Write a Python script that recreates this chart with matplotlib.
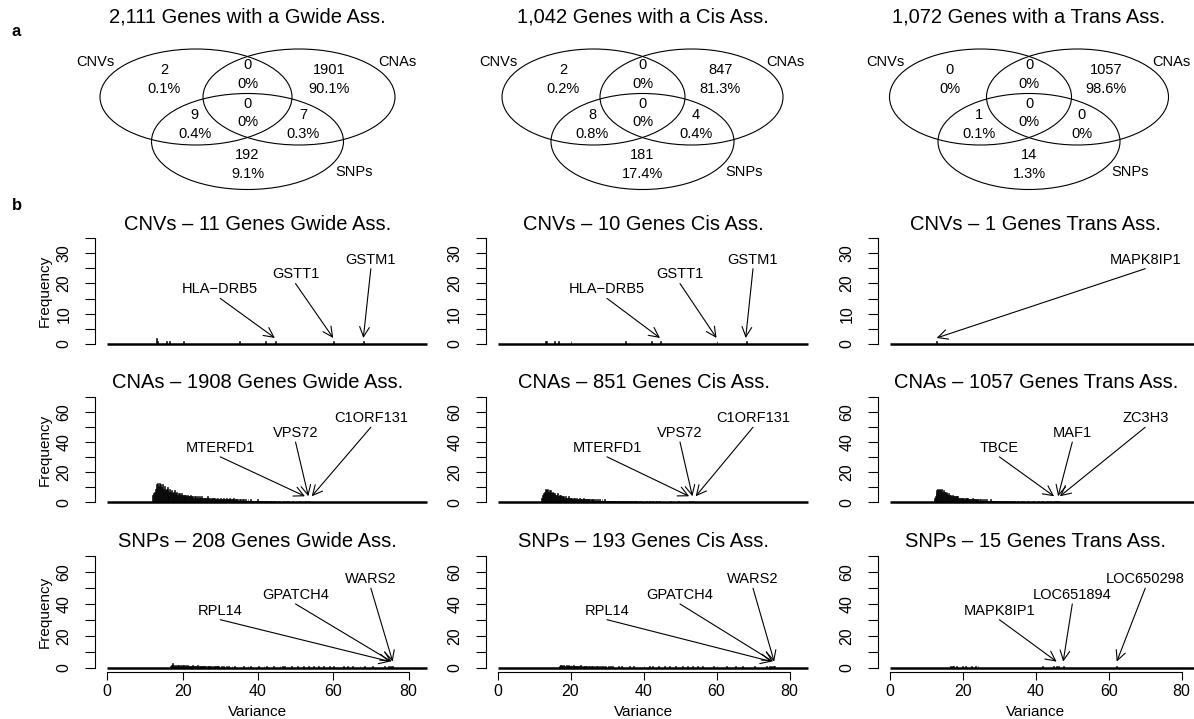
import numpy as np
import matplotlib.pyplot as plt
from matplotlib.patches import Ellipse

plt.rcParams['font.family'] = ['Liberation Sans', 'DejaVu Sans']

W, H = 1194, 719

# Venn region counts, in the order:
# CNV only, CNV&CNA, CNA only, CNV&SNP, all three, CNA&SNP, SNP only
assoc_types = ['Gwide', 'Cis', 'Trans']
set_names = ['CNVs', 'CNAs', 'SNPs']
venn_gwide = [2, 0, 1901, 9, 0, 7, 192]
venn_cis = [2, 0, 847, 8, 0, 4, 181]
venn_trans = [0, 0, 1057, 1, 0, 0, 14]

# variance histograms: dense counts on 0.25-wide bins from a start value,
# plus single genes in the sparse tails
bin_width = 0.25

cnv_gwide_singles = [13.1, 13.2, 13.3, 15.6, 16.7, 20.1, 35.2, 42.1, 44.5, 60.0, 68.0]
cnv_cis_singles = [13.1, 13.3, 15.6, 16.7, 20.1, 35.2, 42.1, 44.5, 60.0, 68.0]
cnv_trans_singles = [12.8]

cna_gwide_start = 12.0
cna_gwide_counts = [
    5, 6, 7, 9, 12, 13, 11, 13, 12, 10, 12, 9, 11, 8, 9, 10,
    8, 7, 9, 7, 8, 6, 7, 8, 6, 7, 5, 6, 6, 5, 6, 5,
    5, 4, 5, 5, 4, 5, 4, 4, 5, 4, 4, 3, 4, 4, 3, 4,
    3, 4, 3, 3, 4, 3, 3, 3, 3, 3, 4, 3, 3, 2, 3, 3,
    3, 3, 2, 3, 2, 3, 2, 2, 3, 2, 2, 3, 2, 2, 3, 2,
    2, 3, 2, 2, 2, 2, 3, 2, 2, 2, 2, 1, 2, 2, 1, 2,
    2, 1, 2, 1, 1, 2, 1, 1, 2, 1, 1, 1, 1, 1, 1, 2,
    1, 1, 1, 1, 1, 0, 1, 1, 1, 1, 0, 1, 0, 1, 1, 0,
    1, 0, 1, 0, 0, 1, 0, 1,
]
cna_gwide_singles = [46.8, 47.5, 48.2, 49.0, 50.1, 51.0, 52.5, 53.4, 54.3]

cna_cis_start = 12.0
cna_cis_counts = [
    3, 5, 6, 7, 9, 8, 9, 7, 8, 7, 8, 6, 7, 6, 6, 5,
    5, 6, 4, 5, 4, 5, 4, 4, 4, 3, 4, 3, 3, 4, 3, 3,
    3, 3, 2, 3, 3, 2, 3, 2, 2, 3, 2, 2, 2, 2, 3, 2,
    2, 2, 2, 2, 2, 1, 2, 2, 2, 2, 1, 2, 1, 2, 1, 2,
    1, 1, 2, 1, 1, 2, 1, 1, 1, 1, 1, 1, 1, 1, 1, 1,
    1, 1, 0, 1, 1, 1, 1, 0, 1, 0, 1, 1, 0, 1, 1, 0,
    1, 0, 1, 0, 0, 1, 0, 1, 1, 0, 0, 1, 0, 1, 0, 0,
    1, 0, 0, 1, 0, 0, 1, 0, 0, 1, 0, 0, 0, 0, 1, 0,
]
cna_cis_singles = [44.3, 47.3, 49.5, 52.5, 53.4, 54.3]

cna_trans_start = 12.0
cna_trans_counts = [
    3, 4, 6, 8, 9, 8, 9, 8, 9, 7, 8, 7, 7, 6, 7, 5,
    6, 5, 5, 4, 5, 4, 4, 4, 4, 3, 4, 3, 3, 3, 3, 3,
    3, 2, 3, 3, 2, 3, 2, 2, 2, 2, 3, 2, 2, 2, 2, 2,
    2, 1, 2, 2, 1, 2, 1, 2, 1, 2, 1, 1, 1, 1, 2, 1,
    1, 1, 1, 1, 1, 1, 1, 0, 1, 1, 0, 1, 1, 0, 1, 1,
    0, 1, 1, 0, 1, 0, 1, 0, 1, 0, 0, 1, 0, 1, 0, 0,
    1, 0, 1, 0, 0, 0, 1, 0, 1, 0, 0, 0, 0, 1, 0, 0,
]
cna_trans_singles = [40.6, 41.9, 43.2, 44.1, 45.0, 45.6, 46.1, 46.6]

snp_gwide_start = 16.5
snp_gwide_counts = [
    0, 1, 2, 3, 2, 1, 2, 1, 2, 2, 1, 2, 1, 2, 2, 1,
    1, 2, 1, 2, 1, 1, 1, 1, 2, 1, 1, 1, 1, 2, 1, 1,
    0, 1, 1, 1, 1, 1, 1, 0, 1, 1, 1, 1, 0, 1, 0, 1,
    1, 0, 1, 1, 1, 0, 0, 1, 0, 1, 0, 0, 1, 0, 1, 0,
    0, 0, 1, 0, 0, 1, 0, 0,
]
snp_gwide_singles = [36.1, 37.4, 38.0, 40.2, 41.5, 42.3, 44.0, 45.8, 46.6, 47.2,
                     48.9, 50.5, 52.0, 53.3, 54.8, 56.1, 57.4, 59.0, 60.2, 62.5,
                     63.8, 65.1, 67.0, 68.3, 70.4, 73.5, 74.6, 75.1, 75.5, 75.8]

snp_cis_start = 16.5
snp_cis_counts = [
    0, 1, 2, 2, 2, 1, 2, 1, 1, 2, 1, 2, 1, 1, 2, 1,
    1, 2, 1, 1, 1, 1, 1, 1, 2, 1, 1, 0, 1, 1, 1, 1,
    0, 1, 1, 0, 1, 1, 1, 0, 1, 0, 1, 1, 0, 1, 0, 1,
    1, 0, 1, 0, 1, 0, 0, 1, 0, 1, 0, 0, 1, 0, 0, 0,
    0, 0, 1, 0, 0, 1, 0, 0,
]
snp_cis_singles = [36.1, 37.4, 40.2, 41.5, 42.3, 44.0, 45.8, 47.2, 48.9, 50.5,
                   52.0, 53.3, 54.8, 56.1, 59.0, 60.2, 62.5, 65.1, 67.0, 70.4,
                   73.5, 74.6, 75.1, 75.5, 75.8]

snp_trans_singles = [16.6, 17.0, 17.4, 18.0, 19.9, 20.6, 22.4, 23.3, 24.2,
                     41.8, 44.9, 45.7, 46.2, 47.5, 62.2]

# labelled genes and their variance, per panel
genes_cnv = {'Gwide': [('HLA\u2212DRB5', 44.5), ('GSTT1', 60.0), ('GSTM1', 68.0)],
             'Cis': [('HLA\u2212DRB5', 44.5), ('GSTT1', 60.0), ('GSTM1', 68.0)],
             'Trans': [(None, None), (None, None), ('MAPK8IP1', 12.8)]}
genes_cna = {'Gwide': [('MTERFD1', 52.5), ('VPS72', 53.4), ('C1ORF131', 54.3)],
             'Cis': [('MTERFD1', 52.5), ('VPS72', 53.4), ('C1ORF131', 54.3)],
             'Trans': [('TBCE', 45.0), ('MAF1', 46.1), ('ZC3H3', 46.6)]}
genes_snp = {'Gwide': [('RPL14', 75.1), ('GPATCH4', 75.5), ('WARS2', 75.8)],
             'Cis': [('RPL14', 75.1), ('GPATCH4', 75.5), ('WARS2', 75.8)],
             'Trans': [('MAPK8IP1', 45.7), ('LOC651894', 47.5), ('LOC650298', 62.2)]}

edges = np.arange(0, 85 + bin_width / 2, bin_width)


def binned(singles, start=None, counts=None):
    h = np.zeros(len(edges) - 1)
    if counts is not None:
        i0 = int(round(start / bin_width))
        h[i0:i0 + len(counts)] += counts
    h += np.histogram(singles, bins=edges)[0]
    return h


hists = {
    ('CNVs', 'Gwide'): binned(cnv_gwide_singles),
    ('CNVs', 'Cis'): binned(cnv_cis_singles),
    ('CNVs', 'Trans'): binned(cnv_trans_singles),
    ('CNAs', 'Gwide'): binned(cna_gwide_singles, cna_gwide_start, cna_gwide_counts),
    ('CNAs', 'Cis'): binned(cna_cis_singles, cna_cis_start, cna_cis_counts),
    ('CNAs', 'Trans'): binned(cna_trans_singles, cna_trans_start, cna_trans_counts),
    ('SNPs', 'Gwide'): binned(snp_gwide_singles, snp_gwide_start, snp_gwide_counts),
    ('SNPs', 'Cis'): binned(snp_cis_singles, snp_cis_start, snp_cis_counts),
    ('SNPs', 'Trans'): binned(snp_trans_singles),
}
genes = {'CNVs': genes_cnv, 'CNAs': genes_cna, 'SNPs': genes_snp}

fig = plt.figure(figsize=(W / 100, H / 100), dpi=100)

# ---------------- a: Venn diagrams (pixel coordinates) ----------------
av = fig.add_axes([0, 0, 1, 1])
av.set_xlim(0, W)
av.set_ylim(H, 0)
av.axis('off')

venn_geom = [  # centre x of the lower ellipse, horizontal offset, half width
    (247.5, 51.5, 96.0),
    (642.5, 49.0, 91.5),
    (1029.0, 48.5, 91.0),
]
cy_top, cy_bot, hh = 97.0, 141.5, 48.0
# region text offsets (in half-widths) and the y of the two lines
region_dx = [-0.87, 0.0, 0.85, -0.55, 0.0, 0.58, 0.0]
region_y = [(70, 89), (65, 84), (70, 89), (115, 134), (104, 122), (115, 134), (155, 174)]

for venn, (cx, s, hw), kind in zip([venn_gwide, venn_cis, venn_trans], venn_geom, assoc_types):
    total = sum(venn)
    av.text(cx, 17, f'{total:,} Genes with a {kind} Ass.', ha='center', va='center', fontsize=14.5)
    for ex, ey in [(cx - s, cy_top), (cx + s, cy_top), (cx, cy_bot)]:
        av.add_patch(Ellipse((ex, ey), 2 * hw, 2 * hh, fill=False, lw=0.8, ec='black'))
    for n, dx, (y1, y2) in zip(venn, region_dx, region_y):
        pct = round(100 * n / total, 1)
        av.text(cx + dx * hw, y1, str(n), ha='center', va='center', fontsize=10.5)
        av.text(cx + dx * hw, y2, f'{pct:g}%', ha='center', va='center', fontsize=10.5)
    av.text(cx - 1.58 * hw, 62, set_names[0], ha='center', va='center', fontsize=10.5)
    av.text(cx + 1.56 * hw, 62, set_names[1], ha='center', va='center', fontsize=10.5)
    av.text(cx + 1.11 * hw, 172, set_names[2], ha='center', va='center', fontsize=10.5)

av.text(16, 31, 'a', ha='center', va='center', fontsize=12, fontweight='bold')
av.text(17, 206, 'b', ha='center', va='center', fontsize=12, fontweight='bold')

# ---------------- b: variance histograms ----------------
col_zero = [107.3, 497.5, 890.0]     # pixel of variance 0
col_scale = [3.765, 3.65, 3.646]     # pixels per variance unit
row_zero = [344.0, 502.3, 668.0]     # pixel of frequency 0
row_scale = [3.03, 1.51, 1.605]      # pixels per count
row_ymax = [35, 70, 70]
xlim = (-3.2, 83.2)

for r, name in enumerate(set_names):
    ymax = row_ymax[r]
    ylim = (-0.04 * ymax, 1.04 * ymax)
    for c, kind in enumerate(assoc_types):
        sx, sy = col_scale[c], row_scale[r]
        left = col_zero[c] + xlim[0] * sx
        width = (xlim[1] - xlim[0]) * sx
        top = row_zero[r] - ylim[1] * sy
        height = (ylim[1] - ylim[0]) * sy
        ax = fig.add_axes([left / W, 1 - (top + height) / H, width / W, height / H])
        ax.patch.set_alpha(0)
        ax.set_xlim(*xlim)
        ax.set_ylim(*ylim)

        h = hists[(name, kind)]
        nz = h > 0
        ax.bar(edges[:-1][nz], h[nz], width=bin_width, align='edge',
               color='black', edgecolor='black', lw=0.4)
        ax.plot([0, 85], [0, 0], color='black', lw=1.8, solid_capstyle='butt', clip_on=False)

        venn = [venn_gwide, venn_cis, venn_trans][c]
        members = {'CNVs': [0, 1, 3, 4], 'CNAs': [1, 2, 4, 5], 'SNPs': [3, 4, 5, 6]}[name]
        n_genes = sum(venn[i] for i in members)
        ax.set_title(f'{name} \u2013 {n_genes} Genes {kind} Ass.', fontsize=14.5, pad=2)

        for (gene, v), lx, ly in zip(genes[name][kind], [30, 50, 70], [0.43, 0.57, 0.71]):
            if gene is None:
                continue
            ax.annotate('', xy=(v, 0.057 * ymax), xytext=(lx, ly * ymax),
                        arrowprops=dict(arrowstyle='->,head_length=0.7,head_width=0.35',
                                        lw=0.8, color='black', shrinkA=0, shrinkB=0))
            ax.annotate(gene, xy=(lx, ly * ymax), xytext=(0, 1.5), textcoords='offset points',
                        ha='center', va='bottom', fontsize=10.5)

        for side in ['top', 'right']:
            ax.spines[side].set_visible(False)
        ax.spines['left'].set_bounds(0, ymax)
        ax.spines['left'].set_linewidth(0.8)
        step = 5 if ymax == 35 else 10
        yt = list(range(0, ymax + 1, step))
        ax.set_yticks(yt)
        ax.set_yticklabels([str(t) if t % (2 * step) == 0 else '' for t in yt],
                           rotation=90, va='center')
        ax.tick_params(axis='y', length=7, width=0.8, pad=10, labelsize=11.5)

        if r == 2:
            ax.spines['bottom'].set_bounds(0, 80)
            ax.spines['bottom'].set_linewidth(0.8)
            ax.set_xticks([0, 20, 40, 60, 80])
            ax.tick_params(axis='x', length=6, width=0.8, pad=2, labelsize=11.5)
            fig.text((col_zero[c] + 40 * sx) / W, 1 - 712 / H, 'Variance',
                     ha='center', va='center', fontsize=11)
        else:
            ax.spines['bottom'].set_visible(False)
            ax.set_xticks([])

        if c == 0:
            fig.text(45 / W, 1 - (row_zero[r] - ymax / 2 * sy) / H, 'Frequency',
                     rotation=90, ha='center', va='center', fontsize=11)

fig.savefig('out.png', dpi=100)
